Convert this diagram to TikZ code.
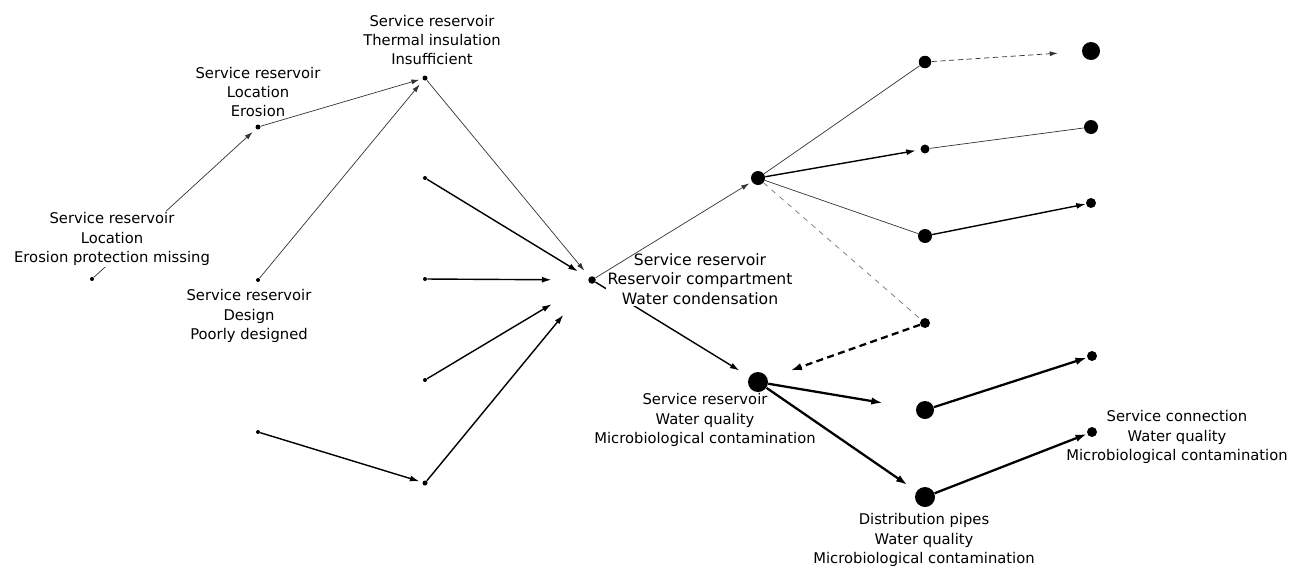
\documentclass[tikz,border=0pt]{standalone}
\usepackage{fontspec}
\setmainfont{DejaVu Sans}
\usepackage{tikz}
\usetikzlibrary{arrows.meta, positioning}

\begin{document}
\begin{tikzpicture}[
		x=0.02cm, y=-0.02cm,
		dot/.style={
			circle,
			fill=black,
			inner sep=0pt,
			minimum size=#1
		},
		lbl/.style={
			align=center,
			inner sep=1pt,
			font=\fontsize{8.4}{11}\selectfont
		},
		lblcover/.style={
			lbl,
			fill=white
		},
		lnthin/.style={
			-{Latex[length=1.6mm, width=1mm]},
			line width=0.4pt,
			black!80
		},
		lnmid/.style={
			-{Latex[length=1.9mm, width=1.2mm]},
			line width=0.8pt
		},
		lnthick/.style={
			-{Latex[length=2.3mm, width=1.5mm]},
			line width=1.3pt
		},
		lnplain/.style={
			line width=0.4pt,
			black!80
		}
		]
		
		\useasboundingbox (0,0) rectangle (1304,572);
		
		% left part
		\node[dot=0.1cm] (insul) at (425,78) {};
		\node[dot=0.1cm] (erosion) at (258,127) {};
		\node[dot=0.08cm] (protect) at (92,279) {};
		\node[dot=0.08cm] (design) at (258,280) {};
		\node[dot=0.08cm] (pa) at (425,178) {};
		\node[dot=0.08cm] (pb) at (425,279) {};
		\node[dot=0.08cm] (pc) at (425,380) {};
		\node[dot=0.08cm] (pd) at (258,432) {};
		\node[dot=0.1cm] (pe) at (425,483) {};
		\node[dot=0.15cm] (condens) at (592,280) {};
		
		% right part
		\node[dot=0.28cm] (hub) at (758,178) {};
		\node[dot=0.4cm] (quality) at (758,382) {};
		\node[dot=0.25cm] (ra) at (925,62) {};
		\node[dot=0.18cm] (rb) at (925,149) {};
		\node[dot=0.28cm] (rc) at (925,236) {};
		\node[dot=0.2cm] (rd) at (925,323) {};
		\node[dot=0.36cm] (re) at (925,410) {};
		\node[dot=0.4cm] (pipes) at (925,497) {};
		\node[dot=0.36cm] (fa) at (1091,51) {};
		\node[dot=0.28cm] (fb) at (1091,127) {};
		\node[dot=0.2cm] (fc) at (1091,203) {};
		\node[dot=0.2cm] (fd) at (1092,356) {};
		\node[dot=0.2cm] (connect) at (1092,432) {};
		
		% these two run under the labels
		\draw[lnthin, shorten >=0.09cm] (protect) -- (erosion);
		\draw[lnmid, shorten >=0.23cm] (condens) -- (quality);
		
		% labels
		\node[lbl] (linsul) at (432,40) {Service reservoir\\Thermal insulation\\Insufficient};
		\node[lbl] (lerosion) at (258,92) {Service reservoir\\Location\\Erosion};
		\node[lblcover] (lprotect) at (112,239) {Service reservoir\\Location\\Erosion protection missing};
		\node[lbl] (ldesign) at (249,316) {Service reservoir\\Design\\Poorly designed};
		\node[lblcover, font=\fontsize{8.9}{11}\selectfont] (lcondens) at (700,279) {Service reservoir\\Reservoir compartment\\Water condensation};
		\node[lbl] (lquality) at (705,420) {Service reservoir\\Water quality\\Microbiological contamination};
		\node[lbl] (lpipes) at (924,540) {Distribution pipes\\Water quality\\Microbiological contamination};
		\node[lbl] (lconnect) at (1177,437) {Service connection\\Water quality\\Microbiological contamination};
		
		%--
		\draw[lnthin, shorten >=0.06cm] (erosion) -- (insul);
		\draw[lnthin, shorten >=0.11cm] (design) -- (insul);
		\draw[lnthin, shorten >=0.16cm] (insul) -- (condens);
		%--
		\draw[lnmid, shorten >=0.25cm] (pa) -- (condens);
		\draw[lnmid, shorten >=0.73cm] (pb) -- (condens);
		\draw[lnmid, shorten >=0.86cm] (pc) -- (condens);
		\draw[lnmid, shorten >=0.06cm] (pd) -- (pe);
		\draw[lnmid, shorten >=0.82cm] (pe) -- (condens);
		%--
		\draw[lnthin, shorten >=0.06cm] (condens) -- (hub);
		\draw[lnplain] (hub) -- (ra);
		\draw[lnmid, shorten >=0.09cm] (hub) -- (rb);
		\draw[lnplain] (hub) -- (rc);
		\draw[lnplain, dash pattern=on 3pt off 3pt, black!55] (hub) -- (rd);
		%--
		\draw[lnthin, densely dashed, shorten >=0.48cm] (ra) -- (fa);
		\draw[lnplain] (rb) -- (fb);
		\draw[lnmid] (rc) -- (fc);
		\draw[lnthick, dash pattern=on 4pt off 2.5pt, shorten >=0.48cm] (rd) -- (quality);
		\draw[lnthick, shorten >=0.67cm] (quality) -- (re);
		\draw[lnthick, shorten >=0.22cm] (quality) -- (pipes);
		\draw[lnthick] (re) -- (fd);
		\draw[lnthick] (pipes) -- (connect);
		
	\end{tikzpicture}
\end{document}
